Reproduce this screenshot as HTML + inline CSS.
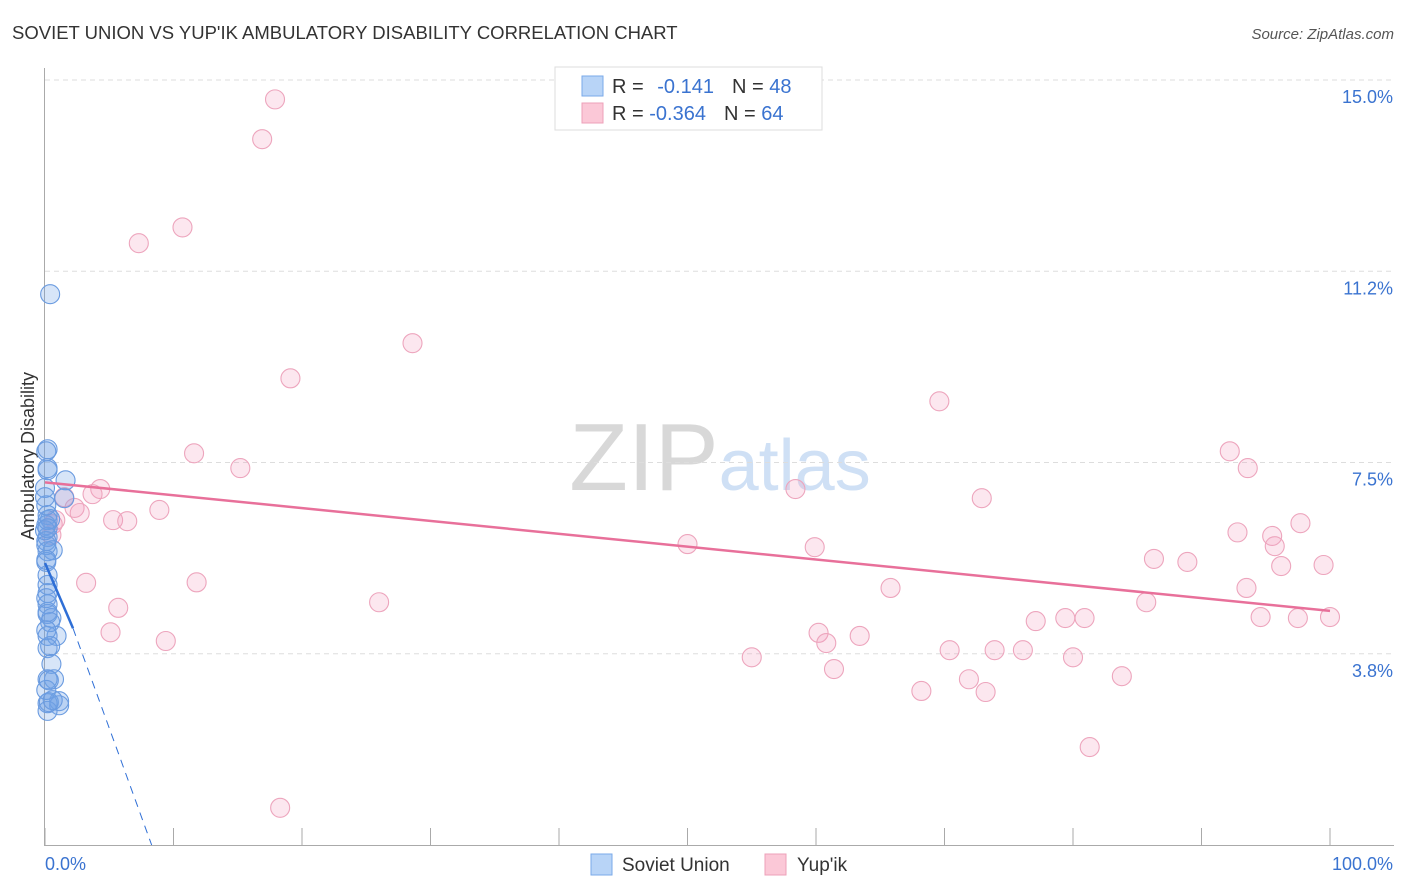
<!DOCTYPE html>
<html><head><meta charset="utf-8"><style>
html,body{margin:0;padding:0;background:#fff;width:1406px;height:892px;overflow:hidden;font-family:"Liberation Sans",sans-serif}
svg text{font-family:"Liberation Sans",sans-serif}
</style></head><body>
<svg id="chart" width="1406" height="892" xmlns="http://www.w3.org/2000/svg">
<text x="12" y="39" font-size="18.5" fill="#333">SOVIET UNION VS YUP'IK AMBULATORY DISABILITY CORRELATION CHART</text>
<text x="1394" y="39" font-size="15" fill="#555" font-style="italic" text-anchor="end">Source: ZipAtlas.com</text>
<text x="720" y="490" font-size="96" text-anchor="middle" fill="#ddd" font-family="Liberation Serif"><tspan fill="#d8d8d8">ZIP</tspan><tspan fill="#cfe0f5" font-family="Liberation Sans" font-size="72">atlas</tspan></text>
<text transform="translate(34,456) rotate(-90)" font-size="18" fill="#333" text-anchor="middle">Ambulatory Disability</text>
<g id="grid"></g><g id="axes"></g><g id="trend"></g><g id="pts"></g>
<g>
<rect x="555" y="67" width="267" height="63" fill="#fff" stroke="#ddd"/>
<rect x="582" y="76" width="21" height="20" fill="#b8d4f7" stroke="#7aaae8"/>
<rect x="582" y="103" width="21" height="20" fill="#fbc8d7" stroke="#eea0b8"/>
<text x="612" y="93" font-size="20" fill="#333">R = <tspan fill="#3a73d0" dx="8">-0.141</tspan><tspan fill="#333" dx="18">N = </tspan><tspan fill="#3a73d0">48</tspan></text>
<text x="612" y="120" font-size="20" fill="#333">R = <tspan fill="#3a73d0">-0.364</tspan><tspan fill="#333" dx="18">N = </tspan><tspan fill="#3a73d0">64</tspan></text>
</g>
<g>
<rect x="591" y="854" width="21" height="21" fill="#b8d4f7" stroke="#7aaae8"/>
<text x="622" y="871" font-size="19" fill="#333">Soviet Union</text>
<rect x="765" y="854" width="21" height="21" fill="#fbc8d7" stroke="#eea0b8"/>
<text x="797" y="871" font-size="19" fill="#333">Yup'ik</text>
</g>
</svg>
<script>
const yTicks=[15.0,11.25,7.5,3.75];
const yTickLabels=["15.0%","11.2%","7.5%","3.8%"];
const xTickLabels=["0.0%","100.0%"];
const blueX=[0.4,0.2,0.1,0.2,1.6,0.0,1.5,0.2,0.4,0.1,0.2,0.1,0.6,0.2,0.1,0.2,0.2,0.2,0.5,0.9,0.2,0.4,0.2,0.5,0.7,0.2,1.1,0.2,1.1,0.2,0.3,0.1,0.2,0.2,0.1,0.0,0.2,0.1,0.0,0.2,0.2,0.4,0.1,0.6,0.3,0.1,0.1,0.2];
const blueY=[10.80,7.76,7.72,7.39,7.15,7.00,6.80,6.47,6.39,6.27,6.04,5.96,5.78,5.76,5.55,4.94,4.72,4.53,4.45,4.10,4.10,3.90,3.86,3.55,3.25,3.25,2.82,2.78,2.74,2.63,2.80,3.04,5.10,5.29,5.88,6.17,6.37,6.66,6.82,7.35,4.57,4.37,4.21,2.84,3.23,4.84,5.59,6.21];
const pinkX=[17.9,16.9,10.7,7.3,28.6,19.1,69.6,11.6,15.2,92.2,93.6,4.3,58.4,72.9,1.5,3.7,2.3,2.7,8.9,5.3,6.4,97.7,92.8,95.5,95.7,50.0,59.9,86.3,88.9,96.2,99.5,3.2,11.8,65.8,93.5,5.7,26.0,85.7,77.1,79.4,80.9,94.6,97.5,100.0,5.1,9.4,60.2,60.8,63.4,55.0,70.4,73.9,76.1,80.0,61.4,71.9,83.8,68.2,73.2,81.3,18.3,0.6,0.5,0.8];
const pinkY=[14.62,13.84,12.11,11.80,9.84,9.15,8.70,7.68,7.39,7.72,7.39,6.98,6.98,6.80,6.82,6.88,6.61,6.51,6.57,6.37,6.35,6.31,6.13,6.06,5.86,5.90,5.84,5.61,5.55,5.47,5.49,5.14,5.15,5.04,5.04,4.65,4.76,4.76,4.39,4.45,4.45,4.47,4.45,4.47,4.17,4.00,4.16,3.96,4.10,3.68,3.82,3.82,3.82,3.68,3.45,3.25,3.31,3.02,3.00,1.92,0.73,6.29,6.08,6.37];
const blueTrend=[[0,5.53],[2.18,4.25]];
const blueTrendExt=[[2.18,4.25],[8.3,0]];
const pinkTrend=[[0,7.11],[100,4.59]];
const NS="http://www.w3.org/2000/svg";
const X=v=>45+v*12.85, Y=v=>845-v*51.0;
function mk(t,a,p){const e=document.createElementNS(NS,t);for(const k in a)e.setAttribute(k,a[k]);p.appendChild(e);return e;}
const grid=document.getElementById('grid'),axes=document.getElementById('axes'),tr=document.getElementById('trend'),pts=document.getElementById('pts');
yTicks.forEach((v,i)=>{
 const l=mk('line',{x1:45,x2:1394,y1:Y(v),y2:Y(v),stroke:'#ddd','stroke-dasharray':'5,4'},grid);
 
 
 const t=mk('text',{x:1393,y:Y(v)+23,'font-size':18,fill:'#3a73d0','text-anchor':'end'},grid);
 t.textContent=yTickLabels[i];
 
 
});
let a=mk('line',{x1:44.5,x2:44.5,y1:68,y2:845,stroke:'#aaa'},axes);


a=mk('line',{x1:44,x2:1394,y1:845.5,y2:845.5,stroke:'#aaa'},axes);


for(let i=0;i<=10;i++){const tk=mk('line',{x1:X(i*10),x2:X(i*10),y1:828,y2:845,stroke:'#aaa'},axes);
 
 }
[[0,'start'],[100,'end']].forEach((d,i)=>{const t=mk('text',{x:i?1393:45,y:870,'font-size':18,fill:'#3a73d0','text-anchor':d[1]},axes);t.textContent=xTickLabels[i];
 
 });
function dot(x,y,fill,stroke,name){const c=mk('circle',{cx:X(x),cy:Y(y),r:9.5,fill:fill,stroke:stroke,'stroke-width':1.1},pts);
 
 }
pinkX.forEach((x,i)=>dot(x,pinkY[i],'rgba(245,160,190,0.25)','#eda5bd','yupik-point'));
blueX.forEach((x,i)=>dot(x,blueY[i],'rgba(110,160,230,0.28)','#6a9be0','soviet-union-point'));
let L=mk('line',{x1:X(pinkTrend[0][0]),y1:Y(pinkTrend[0][1]),x2:X(pinkTrend[1][0]),y2:Y(pinkTrend[1][1]),stroke:'#e8709a','stroke-width':2.5},pts);


L=mk('line',{x1:X(blueTrend[0][0]),y1:Y(blueTrend[0][1]),x2:X(blueTrend[1][0]),y2:Y(blueTrend[1][1]),stroke:'#2f6fd6','stroke-width':2.5},pts);


L=mk('line',{x1:X(blueTrendExt[0][0]),y1:Y(blueTrendExt[0][1]),x2:X(blueTrendExt[1][0]),y2:Y(blueTrendExt[1][1]),stroke:'#2f6fd6','stroke-width':1,'stroke-dasharray':'8,6'},pts);


</script>
</body></html>
